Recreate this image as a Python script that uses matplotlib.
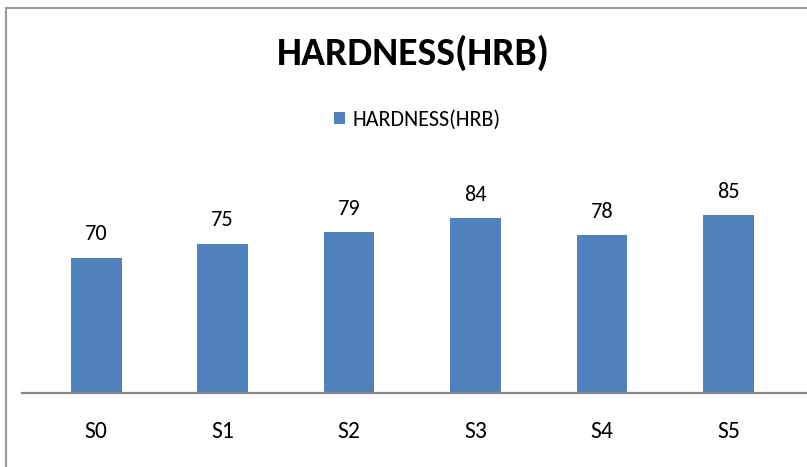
import matplotlib.pyplot as plt
from matplotlib.lines import Line2D

samples = ['S0', 'S1', 'S2', 'S3', 'S4', 'S5']
hardness = [70, 75, 79, 84, 78, 85]
series_name = 'HARDNESS(HRB)'

plt.rcParams['font.family'] = ['Carlito', 'DejaVu Sans']

fig = plt.figure(figsize=(8.07, 4.67), dpi=100)
ax = fig.add_axes([22 / 807, 1 - 393 / 467, 1 - 22 / 807, (393 - 150) / 467])

bars = ax.bar(range(len(samples)), hardness, width=0.4, color='#4F81BD', label=series_name)
for x, v in zip(range(len(samples)), hardness):
    ax.annotate(str(v), (x, v), xytext=(0, 12.5), textcoords='offset points',
                ha='center', va='baseline', fontsize=16)

ax.set_xlim(-0.587, 5.62)
ax.set_ylim(22.0, 108.2)
ax.set_yticks([])
ax.set_xticks(range(len(samples)))
ax.set_xticklabels(samples, fontsize=17)
ax.tick_params(axis='x', length=0, pad=20)
for s in ['top', 'right', 'left']:
    ax.spines[s].set_visible(False)
ax.spines['bottom'].set_color('#868686')
ax.spines['bottom'].set_linewidth(1.6)

fig.text(413 / 807, 1 - 53 / 467, 'HARDNESS(HRB)', ha='center', va='center',
         fontsize=28.5, fontweight='bold')

fig.legend(handles=[bars], loc='center', bbox_to_anchor=(417 / 807, 1 - 120 / 467),
           frameon=False, handlelength=0.5, handleheight=0.5,
           handletextpad=0.35, prop={'size': 15.8})

# chart border (top and left visible)
fig.add_artist(Line2D([6 / 807, 6 / 807], [0, 1 - 8 / 467], color='#9a9a9a', lw=1.5))
fig.add_artist(Line2D([6 / 807, 1], [1 - 8 / 467, 1 - 8 / 467], color='#9a9a9a', lw=1.5))

fig.savefig('out.png', dpi=100)
